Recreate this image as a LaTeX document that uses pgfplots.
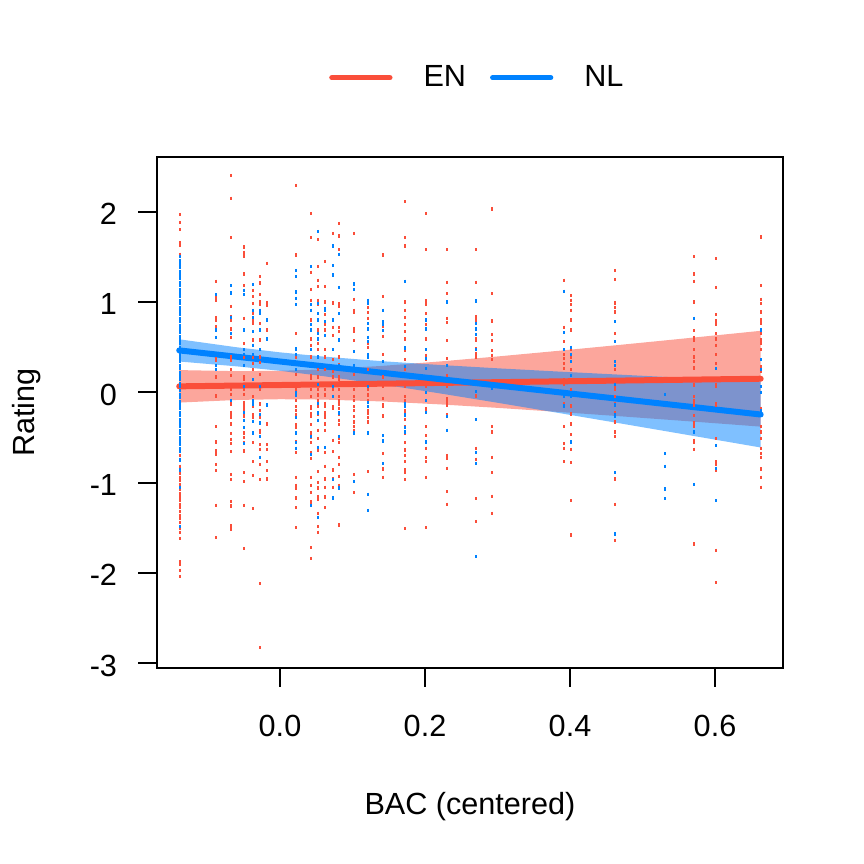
\documentclass[border=0pt]{standalone}
\usepackage{pgfplots}
\pgfplotsset{compat=1.18}
\usepackage{fontspec}
\setmainfont{Liberation Sans}
\newcommand\fs{\fontsize{15.3}{18}\selectfont}
\definecolor{cred}{RGB}{250,78,58}
\definecolor{cblue}{RGB}{0,130,255}
\begin{document}
\begin{tikzpicture}
\path[use as bounding box] (0,0) rectangle (432pt,432pt);
\begin{axis}[
  at={(78.5pt,98pt)}, anchor=south west,
  scale only axis, width=313pt, height=255.5pt,
  xmin=-0.16966, xmax=0.69379, ymin=-3.0532, ymax=2.6058,
  axis line style={line width=1pt},
  every tick/.style={black, line width=1pt},
  tick align=outside, major tick length=9.3pt,
  xtick={0,0.2,0.4,0.6}, xticklabels={0.0,0.2,0.4,0.6},
  ytick={-3,-2,-1,0,1,2}, yticklabels={-3,-2,-1,0,1,2},
  xtick pos=bottom, ytick pos=left,
  xticklabel style={font=\fs, anchor=base, inner sep=0pt, yshift=-25.2pt},
  yticklabel style={font=\fs, anchor=east, inner sep=0pt, xshift=-10.5pt, yshift=-1.2pt},
  legend columns=-1,
  legend style={draw=none, fill=none, font=\fs, inner sep=0pt,
    at={(axis description cs:0.2745,1.1552)}, anchor=west,
    nodes={inner sep=0pt},
    /tikz/every odd column/.append style={column sep=15.5pt},
    /tikz/every even column/.append style={column sep=12pt}},
  legend image code/.code={\draw[line width=2.65pt, line cap=round] (0pt,0pt) -- (29pt,0pt);},
]
% confidence bands
\addplot[forget plot, draw=none, fill=cred, fill opacity=0.5] coordinates {
(-0.139,0.246) (-0.06,0.234) (0.0,0.2379) (0.06,0.2545) (0.14,0.292) (0.22,0.3411) (0.30,0.3968) (0.38,0.4564) (0.46,0.5183) (0.54,0.5817) (0.62,0.646) (0.663,0.681)
(0.663,-0.3804) (0.62,-0.3544) (0.54,-0.3069) (0.46,-0.2603) (0.38,-0.2152) (0.30,-0.1724) (0.22,-0.1335) (0.14,-0.1012) (0.06,-0.0805) (0.0,-0.0765) (-0.06,-0.085) (-0.139,-0.114)
} -- cycle;
\addplot[forget plot, draw=none, fill=cblue, fill opacity=0.5] coordinates {
(-0.139,0.587) (-0.06,0.4989) (0.0,0.4425) (0.06,0.3956) (0.14,0.3448) (0.22,0.303) (0.30,0.2659) (0.38,0.2316) (0.46,0.1989) (0.54,0.1671) (0.62,0.136) (0.663,0.1195)
(0.663,-0.6113) (0.62,-0.5518) (0.54,-0.4415) (0.46,-0.3317) (0.38,-0.223) (0.30,-0.1159) (0.22,-0.0116) (0.14,0.088) (0.06,0.1788) (0.0,0.2379) (-0.06,0.2875) (-0.139,0.341)
} -- cycle;
% red points
\addplot[forget plot, only marks, mark=|, mark size=0.8pt, cred, mark options={line width=1pt}] table[row sep=\\] {
x y\\
-0.138 1.97\\ -0.138 1.88\\ -0.138 1.80\\ -0.138 1.66\\ -0.138 1.63\\ -0.138 1.53\\ -0.138 1.39\\
-0.138 -0.70\\ -0.138 -0.74\\ -0.138 -0.82\\ -0.138 -0.90\\ -0.138 -0.94\\ -0.138 -0.98\\ -0.138 -1.02\\ -0.138 -1.08\\ -0.138 -1.12\\ -0.138 -1.16\\ -0.138 -1.20\\ -0.138 -1.24\\ -0.138 -1.28\\ -0.138 -1.32\\ -0.138 -1.36\\ -0.138 -1.40\\ -0.138 -1.44\\ -0.138 -1.51\\ -0.138 -1.55\\ -0.138 -1.62\\ -0.138 -1.88\\ -0.138 -1.91\\ -0.138 -1.97\\ -0.138 -2.04\\
-0.088 1.23\\ -0.088 1.05\\ -0.088 1.02\\ -0.088 0.83\\ -0.088 0.80\\ -0.088 0.73\\ -0.088 0.37\\ -0.088 0.35\\ -0.088 0.17\\ -0.088 -0.04\\ -0.088 -0.38\\ -0.088 -0.55\\ -0.088 -0.65\\ -0.088 -0.69\\ -0.088 -0.80\\ -0.088 -0.87\\ -0.088 -1.25\\ -0.088 -1.61\\
-0.068 2.40\\ -0.068 2.15\\ -0.068 1.71\\ -0.068 0.95\\ -0.068 0.84\\ -0.068 0.80\\ -0.068 0.70\\ -0.068 0.65\\ -0.068 0.61\\ -0.068 0.39\\ -0.068 0.35\\ -0.068 0.25\\ -0.068 0.19\\ -0.068 0.03\\ -0.068 -0.02\\ -0.068 -0.13\\ -0.068 -0.24\\ -0.068 -0.11\\ -0.068 -0.22\\ -0.068 -0.28\\ -0.068 -0.35\\ -0.068 -0.46\\ -0.068 -0.52\\ -0.068 -0.57\\ -0.068 -0.66\\ -0.068 -0.91\\ -0.068 -0.97\\ -0.068 -1.21\\ -0.068 -1.26\\ -0.068 -1.48\\ -0.068 -1.52\\
-0.049 1.61\\ -0.049 1.55\\ -0.049 1.51\\ -0.049 1.31\\ -0.049 1.18\\ -0.049 0.82\\ -0.049 0.54\\ -0.049 0.47\\ -0.049 0.39\\ -0.049 0.17\\ -0.049 0.14\\ -0.049 0.03\\ -0.049 -0.02\\ -0.049 -0.13\\ -0.049 -0.26\\ -0.049 -0.11\\ -0.049 -0.16\\ -0.049 -0.19\\ -0.049 -0.25\\ -0.049 -0.27\\ -0.049 -0.45\\ -0.049 -0.50\\ -0.049 -0.56\\ -0.049 -0.65\\ -0.049 -0.89\\ -0.049 -0.99\\ -0.049 -1.25\\ -0.049 -1.73\\
-0.037 1.13\\ -0.037 1.06\\ -0.037 0.98\\ -0.037 0.87\\ -0.037 0.80\\ -0.037 0.76\\ -0.037 0.58\\ -0.037 0.39\\ -0.037 0.32\\ -0.037 0.25\\ -0.037 0.06\\ -0.037 -0.05\\ -0.037 -0.14\\ -0.037 -0.25\\ -0.037 -0.16\\ -0.037 -0.28\\ -0.037 -0.56\\ -0.037 -0.77\\ -0.037 -0.92\\ -0.037 -1.29\\
-0.028 1.28\\ -0.028 1.21\\ -0.028 1.08\\ -0.028 1.00\\ -0.028 0.97\\ -0.028 0.76\\ -0.028 0.58\\ -0.028 0.39\\ -0.028 0.33\\ -0.028 0.20\\ -0.028 0.03\\ -0.028 -0.13\\ -0.028 -0.20\\ -0.028 -0.25\\ -0.028 -0.28\\ -0.028 -0.42\\ -0.028 -0.44\\ -0.028 -0.58\\ -0.028 -0.63\\ -0.028 -0.80\\ -0.028 -0.97\\ -0.028 -2.12\\ -0.028 -2.83\\
-0.018 1.43\\ -0.018 0.99\\ -0.018 0.96\\ -0.018 0.69\\ -0.018 -0.35\\ -0.018 -0.58\\ -0.018 -0.63\\ -0.018 -0.77\\ -0.018 -0.87\\ -0.018 -0.96\\
0.022 2.29\\ 0.022 1.52\\ 0.022 0.65\\ 0.022 0.47\\ 0.022 0.39\\ 0.022 0.20\\ 0.022 0.03\\ 0.022 -0.20\\ 0.022 -0.09\\ 0.022 -0.16\\ 0.022 -0.25\\ 0.022 -0.36\\ 0.022 -0.39\\ 0.022 -0.55\\ 0.022 -0.67\\ 0.022 -0.94\\ 0.022 -1.03\\ 0.022 -1.06\\ 0.022 -1.17\\ 0.022 -1.28\\ 0.022 -1.50\\
0.043 1.98\\ 0.043 1.71\\ 0.043 1.33\\ 0.043 1.14\\ 0.043 1.02\\ 0.043 0.80\\ 0.043 0.59\\ 0.043 0.52\\ 0.043 0.39\\ 0.043 0.19\\ 0.043 0.15\\ 0.043 0.03\\ 0.043 -0.05\\ 0.043 -0.16\\ 0.043 -0.24\\ 0.043 -0.18\\ 0.043 -0.27\\ 0.043 -0.36\\ 0.043 -0.45\\ 0.043 -0.50\\ 0.043 -0.56\\ 0.043 -0.67\\ 0.043 -0.73\\ 0.043 -0.94\\ 0.043 -1.03\\ 0.043 -1.11\\ 0.043 -1.21\\ 0.043 -1.23\\ 0.043 -1.72\\ 0.043 -1.84\\
0.052 1.69\\ 0.052 1.39\\ 0.052 1.24\\ 0.052 1.17\\ 0.052 1.02\\ 0.052 0.97\\ 0.052 0.80\\ 0.052 0.69\\ 0.052 0.54\\ 0.052 0.47\\ 0.052 0.25\\ 0.052 0.17\\ 0.052 0.03\\ 0.052 -0.03\\ 0.052 -0.13\\ 0.052 -0.24\\ 0.052 -0.09\\ 0.052 -0.16\\ 0.052 -0.42\\ 0.052 -0.51\\ 0.052 -0.64\\ 0.052 -0.88\\ 0.052 -1.00\\ 0.052 -1.06\\ 0.052 -1.16\\ 0.052 -1.19\\ 0.052 -1.34\\ 0.052 -1.49\\ 0.052 -1.55\\
0.062 1.45\\ 0.062 1.17\\ 0.062 1.00\\ 0.062 0.86\\ 0.062 0.75\\ 0.062 0.69\\ 0.062 0.47\\ 0.062 0.39\\ 0.062 0.25\\ 0.062 0.03\\ 0.062 -0.03\\ 0.062 -0.13\\ 0.062 -0.24\\ 0.062 -0.12\\ 0.062 -0.16\\ 0.062 -0.23\\ 0.062 -0.28\\ 0.062 -0.35\\ 0.062 -0.42\\ 0.062 -0.67\\ 0.062 -0.82\\ 0.062 -0.96\\ 0.062 -1.05\\ 0.062 -1.16\\ 0.062 -1.28\\
0.073 1.76\\ 0.073 1.30\\ 0.073 0.99\\ 0.073 0.72\\ 0.073 0.63\\ 0.073 0.36\\ 0.073 0.23\\ 0.073 0.17\\ 0.073 0.03\\ 0.073 -0.05\\ 0.073 -0.16\\ 0.073 -0.18\\ 0.073 -0.53\\ 0.073 -0.66\\ 0.073 -0.86\\ 0.073 -0.96\\ 0.073 -1.05\\
0.081 1.87\\ 0.081 1.73\\ 0.081 1.58\\ 0.081 0.98\\ 0.081 0.95\\ 0.081 0.72\\ 0.081 0.67\\ 0.081 0.39\\ 0.081 0.31\\ 0.081 0.17\\ 0.081 0.14\\ 0.081 0.03\\ 0.081 -0.05\\ 0.081 -0.13\\ 0.081 -0.24\\ 0.081 -0.09\\ 0.081 -0.18\\ 0.081 -0.31\\ 0.081 -0.36\\ 0.081 -0.51\\ 0.081 -0.56\\ 0.081 -0.72\\ 0.081 -0.80\\ 0.081 -0.93\\ 0.081 -1.03\\ 0.081 -1.47\\
0.102 1.76\\ 0.102 1.03\\ 0.102 0.91\\ 0.102 0.89\\ 0.102 0.71\\ 0.102 0.67\\ 0.102 0.57\\ 0.102 0.20\\ 0.102 0.03\\ 0.102 -0.05\\ 0.102 -0.20\\ 0.102 -0.09\\ 0.102 -0.16\\ 0.102 -0.27\\ 0.102 -0.33\\ 0.102 -0.38\\ 0.102 -0.42\\ 0.102 -0.91\\ 0.102 -1.11\\
0.121 0.94\\ 0.121 0.88\\ 0.121 0.82\\ 0.121 0.76\\ 0.121 0.54\\ 0.121 0.50\\ 0.121 0.25\\ 0.121 0.03\\ 0.121 -0.03\\ 0.121 -0.09\\ 0.121 -0.20\\ 0.121 -0.16\\ 0.121 -0.23\\ 0.121 -0.28\\ 0.121 -0.33\\ 0.121 -0.88\\
0.142 1.52\\ 0.142 1.06\\ 0.142 0.73\\ 0.142 0.62\\ 0.142 0.42\\ 0.142 0.17\\ 0.142 0.06\\ 0.142 -0.07\\ 0.142 -0.14\\ 0.142 -0.26\\ 0.142 -0.16\\ 0.142 -0.27\\ 0.142 -0.68\\ 0.142 -0.85\\ 0.142 -0.94\\
0.172 2.11\\ 0.172 1.71\\ 0.172 1.62\\ 0.172 1.00\\ 0.172 0.91\\ 0.172 0.83\\ 0.172 0.75\\ 0.172 0.67\\ 0.172 0.59\\ 0.172 0.46\\ 0.172 0.36\\ 0.172 0.25\\ 0.172 0.06\\ 0.172 -0.05\\ 0.172 -0.09\\ 0.172 -0.20\\ 0.172 -0.25\\ 0.172 -0.23\\ 0.172 -0.30\\ 0.172 -0.38\\ 0.172 -0.45\\ 0.172 -0.56\\ 0.172 -0.64\\ 0.172 -0.70\\ 0.172 -0.77\\ 0.172 -0.86\\ 0.172 -0.89\\ 0.172 -0.97\\ 0.172 -1.51\\
0.201 1.98\\ 0.201 1.58\\ 0.201 1.01\\ 0.201 0.97\\ 0.201 0.87\\ 0.201 0.75\\ 0.201 0.59\\ 0.201 0.41\\ 0.201 0.36\\ 0.201 0.06\\ 0.201 -0.19\\ 0.201 -0.18\\ 0.201 -0.38\\ 0.201 -0.48\\ 0.201 -0.62\\ 0.201 -0.72\\ 0.201 -0.77\\ 0.201 -0.94\\ 0.201 -1.50\\
0.231 1.58\\ 0.231 1.22\\ 0.231 1.09\\ 0.231 0.82\\ 0.231 0.77\\ 0.231 0.57\\ 0.231 0.37\\ 0.231 0.19\\ 0.231 0.06\\ 0.231 -0.07\\ 0.231 -0.13\\ 0.231 -0.25\\ 0.231 -0.09\\ 0.231 -0.14\\ 0.231 -0.70\\ 0.231 -0.73\\ 0.231 -0.84\\ 0.231 -1.10\\ 0.231 -1.24\\
0.271 1.58\\ 0.271 1.22\\ 0.271 0.84\\ 0.271 0.80\\ 0.271 0.59\\ 0.271 0.58\\ 0.271 0.48\\ 0.271 0.43\\ 0.271 0.39\\ 0.271 -0.04\\ 0.271 -0.62\\ 0.271 -0.74\\ 0.271 -1.18\\ 0.271 -1.43\\
0.292 2.03\\ 0.292 1.09\\ 0.292 0.79\\ 0.292 0.64\\ 0.292 0.57\\ 0.292 0.46\\ 0.292 0.41\\ 0.292 0.36\\ 0.292 -0.38\\ 0.292 -0.44\\ 0.292 -0.72\\ 0.292 -0.89\\ 0.292 -1.15\\ 0.292 -1.34\\
0.392 1.24\\ 0.392 0.72\\ 0.392 0.56\\ 0.392 0.42\\ 0.392 0.37\\ 0.392 0.32\\ 0.392 0.26\\ 0.392 0.14\\ 0.392 0.09\\ 0.392 -0.05\\ 0.392 -0.13\\ 0.392 -0.16\\ 0.392 -0.38\\ 0.392 -0.57\\ 0.392 -0.62\\ 0.392 -0.77\\
0.401 1.07\\ 0.401 1.02\\ 0.401 0.97\\ 0.401 0.91\\ 0.401 0.80\\ 0.401 0.69\\ 0.401 0.47\\ 0.401 0.39\\ 0.401 0.25\\ 0.401 0.03\\ 0.401 -0.05\\ 0.401 -0.15\\ 0.401 -0.24\\ 0.401 -0.16\\ 0.401 -0.25\\ 0.401 -0.35\\ 0.401 -0.47\\ 0.401 -0.56\\ 0.401 -0.63\\ 0.401 -0.78\\ 0.401 -1.20\\ 0.401 -1.58\\
0.462 1.35\\ 0.462 1.25\\ 0.462 0.99\\ 0.462 0.94\\ 0.462 0.89\\ 0.462 0.65\\ 0.462 0.25\\ 0.462 0.06\\ 0.462 0.03\\ 0.462 -0.05\\ 0.462 -0.13\\ 0.462 -0.22\\ 0.462 -0.14\\ 0.462 -0.33\\ 0.462 -0.44\\ 0.462 -0.49\\ 0.462 -0.96\\ 0.462 -1.24\\ 0.462 -1.64\\
0.571 1.50\\ 0.571 1.31\\ 0.571 1.23\\ 0.571 1.00\\ 0.571 0.68\\ 0.571 0.61\\ 0.571 0.58\\ 0.571 0.47\\ 0.571 0.39\\ 0.571 0.34\\ 0.571 0.27\\ 0.571 0.08\\ 0.571 -0.05\\ 0.571 -0.09\\ 0.571 -0.14\\ 0.571 -0.26\\ 0.571 -0.12\\ 0.571 -0.34\\ 0.571 -0.38\\ 0.571 -0.53\\ 0.571 -0.55\\ 0.571 -0.63\\ 0.571 -1.68\\
0.601 1.48\\ 0.601 1.16\\ 0.601 0.86\\ 0.601 0.79\\ 0.601 0.75\\ 0.601 0.65\\ 0.601 0.59\\ 0.601 0.52\\ 0.601 0.42\\ 0.601 0.32\\ 0.601 0.09\\ 0.601 0.07\\ 0.601 -0.14\\ 0.601 -0.13\\ 0.601 -0.51\\ 0.601 -0.77\\ 0.601 -0.80\\ 0.601 -0.86\\ 0.601 -1.75\\ 0.601 -2.11\\
0.663 1.72\\ 0.663 1.18\\ 0.663 1.03\\ 0.663 0.98\\ 0.663 0.89\\ 0.663 0.80\\ 0.663 0.76\\ 0.663 0.65\\ 0.663 0.58\\ 0.663 0.54\\ 0.663 0.47\\ 0.663 0.36\\ 0.663 0.28\\ 0.663 0.23\\ 0.663 0.06\\ 0.663 -0.19\\ 0.663 -0.18\\ 0.663 -0.38\\ 0.663 -0.44\\ 0.663 -0.51\\ 0.663 -0.62\\ 0.663 -0.68\\ 0.663 -0.72\\ 0.663 -0.85\\ 0.663 -0.94\\ 0.663 -1.05\\
};
% blue points
\addplot[forget plot, only marks, mark=|, mark size=0.8pt, cblue, mark options={line width=1pt}] table[row sep=\\] {
x y\\
-0.138 1.50\\ -0.138 1.46\\ -0.138 1.42\\ -0.138 1.38\\ -0.138 1.34\\ -0.138 1.30\\ -0.138 1.26\\ -0.138 1.22\\ -0.138 1.18\\ -0.138 1.14\\ -0.138 1.10\\ -0.138 1.06\\ -0.138 1.02\\ -0.138 0.98\\ -0.138 0.94\\ -0.138 0.90\\ -0.138 0.86\\ -0.138 0.82\\ -0.138 0.78\\ -0.138 0.74\\ -0.138 0.70\\ -0.138 0.66\\ -0.138 0.62\\ -0.138 0.58\\ -0.138 0.54\\ -0.138 0.50\\ -0.138 0.46\\ -0.138 0.42\\ -0.138 0.38\\ -0.138 0.34\\ -0.138 0.30\\ -0.138 0.26\\ -0.138 0.22\\ -0.138 0.18\\ -0.138 0.14\\ -0.138 0.10\\ -0.138 0.06\\ -0.138 0.02\\ -0.138 -0.02\\ -0.138 -0.06\\ -0.138 -0.10\\ -0.138 -0.14\\ -0.138 -0.18\\ -0.138 -0.22\\ -0.138 -0.26\\ -0.138 -0.30\\ -0.138 -0.34\\ -0.138 -0.38\\ -0.138 -0.42\\ -0.138 -0.46\\ -0.138 -0.50\\ -0.138 -0.54\\ -0.138 -0.58\\ -0.138 -0.62\\ -0.138 -0.66\\ -0.138 -0.75\\ -0.138 -0.86\\ -0.138 -1.05\\ -0.138 -1.49\\
-0.088 1.08\\ -0.088 0.69\\ -0.088 0.61\\ -0.088 0.30\\ -0.088 0.25\\
-0.068 1.18\\ -0.068 1.10\\ -0.068 0.83\\ -0.068 0.65\\ -0.068 -0.09\\
-0.049 1.13\\ -0.049 1.08\\ -0.049 0.69\\ -0.049 0.68\\ -0.049 0.47\\ -0.049 0.42\\ -0.049 0.30\\ -0.049 0.06\\ -0.049 -0.22\\ -0.049 -0.31\\ -0.049 -0.39\\ -0.049 -0.57\\
-0.037 1.19\\ -0.037 0.91\\ -0.037 0.83\\ -0.037 0.67\\ -0.037 0.52\\ -0.037 0.42\\ -0.037 0.14\\ -0.037 -0.13\\ -0.037 -0.09\\ -0.037 -0.32\\ -0.037 -0.45\\
-0.028 0.91\\ -0.028 0.87\\ -0.028 0.69\\ -0.028 0.47\\ -0.028 0.06\\ -0.028 -0.25\\ -0.028 -0.34\\ -0.028 -0.49\\ -0.028 -0.72\\
-0.018 0.80\\ -0.018 0.59\\ -0.018 -0.14\\
0.022 1.35\\ 0.022 1.28\\ 0.022 1.11\\ 0.022 1.04\\ 0.022 0.97\\ 0.022 0.48\\ 0.022 0.42\\ 0.022 0.31\\ 0.022 0.25\\ 0.022 0.00\\ 0.022 -0.03\\ 0.022 -0.28\\ 0.022 -0.45\\ 0.022 -0.56\\ 0.022 -0.62\\
0.043 1.39\\ 0.043 0.97\\ 0.043 0.91\\ 0.043 0.75\\ 0.043 0.69\\ 0.043 0.47\\ 0.043 0.31\\ 0.043 -0.49\\ 0.043 -0.69\\ 0.043 -1.25\\
0.052 1.78\\ 0.052 0.98\\ 0.052 0.87\\ 0.052 0.80\\ 0.052 0.65\\ 0.052 0.59\\ 0.052 0.39\\ 0.052 0.31\\ 0.052 0.09\\ 0.052 -0.12\\ 0.052 -0.23\\ 0.052 -0.31\\ 0.052 -0.61\\ 0.052 -1.39\\
0.062 0.93\\ 0.062 0.91\\ 0.062 0.78\\ 0.062 0.63\\ 0.062 -0.61\\
0.073 1.62\\ 0.073 1.40\\ 0.073 1.30\\ 0.073 0.80\\ 0.073 0.47\\ 0.073 0.06\\ 0.073 -0.05\\ 0.073 -0.97\\ 0.073 -1.17\\
0.081 1.53\\ 0.081 1.16\\ 0.081 0.87\\ 0.081 0.58\\ 0.081 0.30\\ 0.081 -0.23\\ 0.081 -0.49\\ 0.081 -1.06\\
0.102 1.20\\ 0.102 1.14\\ 0.102 0.45\\ 0.102 0.30\\ 0.102 -0.45\\ 0.102 -0.99\\
0.121 1.02\\ 0.121 0.98\\ 0.121 0.76\\ 0.121 0.70\\ 0.121 0.61\\ 0.121 0.56\\ 0.121 0.42\\ 0.121 0.39\\ 0.121 0.06\\ 0.121 -0.16\\ 0.121 -0.11\\ 0.121 -0.45\\ 0.121 -1.13\\ 0.121 -1.31\\
0.142 0.91\\ 0.142 0.78\\ 0.142 0.75\\ 0.142 0.68\\ 0.142 0.34\\ 0.142 -0.48\\ 0.142 -0.54\\ 0.142 -0.79\\
0.172 1.23\\ 0.172 0.49\\ 0.172 0.29\\ 0.172 -0.13\\ 0.172 -0.25\\ 0.172 -0.12\\ 0.172 -0.16\\ 0.172 -0.26\\ 0.172 -0.39\\ 0.172 -0.44\\
0.201 0.80\\ 0.201 0.70\\ 0.201 0.47\\ 0.201 0.37\\ 0.201 0.26\\ 0.201 0.00\\ 0.201 -0.09\\ 0.201 -0.22\\ 0.201 -0.55\\
0.231 1.00\\ 0.231 0.30\\ 0.231 -0.27\\ 0.231 -0.42\\
0.271 1.01\\ 0.271 0.76\\ 0.271 0.70\\ 0.271 0.64\\ 0.271 0.47\\ 0.271 0.01\\ 0.271 -0.30\\ 0.271 -0.67\\ 0.271 -0.79\\ 0.271 -1.82\\
0.292 0.04\\
0.392 1.12\\ 0.392 0.66\\ 0.392 0.47\\ 0.392 -0.05\\ 0.392 -0.15\\ 0.392 -0.16\\
0.401 0.50\\ 0.401 0.42\\ 0.401 0.34\\ 0.401 0.19\\ 0.401 -0.05\\ 0.401 -0.55\\
0.462 0.78\\ 0.462 0.56\\ 0.462 0.34\\ 0.462 0.30\\ 0.462 0.09\\ 0.462 -0.14\\ 0.462 -0.25\\ 0.462 -0.27\\ 0.462 -0.89\\ 0.462 -1.57\\
0.531 -0.02\\ 0.531 -0.68\\ 0.531 -0.82\\ 0.531 -1.07\\ 0.531 -1.18\\
0.571 0.82\\ 0.571 -0.44\\ 0.571 -1.02\\
0.601 0.26\\ 0.601 -0.59\\ 0.601 -0.84\\ 0.601 -1.20\\
0.663 0.69\\ 0.663 0.36\\ 0.663 0.25\\ 0.663 0.06\\ 0.663 0.00\\ 0.663 -0.20\\
};
% regression lines
\addplot[cred, line width=3pt, line cap=round] coordinates {(-0.139,0.066) (0.663,0.1503)};
\addlegendentry{EN}
\addplot[cblue, line width=3pt, line cap=round] coordinates {(-0.139,0.464) (0.663,-0.2459)};
\addlegendentry{NL}
\end{axis}
\node[font=\fs, anchor=base] at (235pt,24.85pt) {BAC (centered)};
\node[font=\fs, anchor=base, rotate=90] at (17.15pt,225.75pt) {Rating};
\end{tikzpicture}
\end{document}
